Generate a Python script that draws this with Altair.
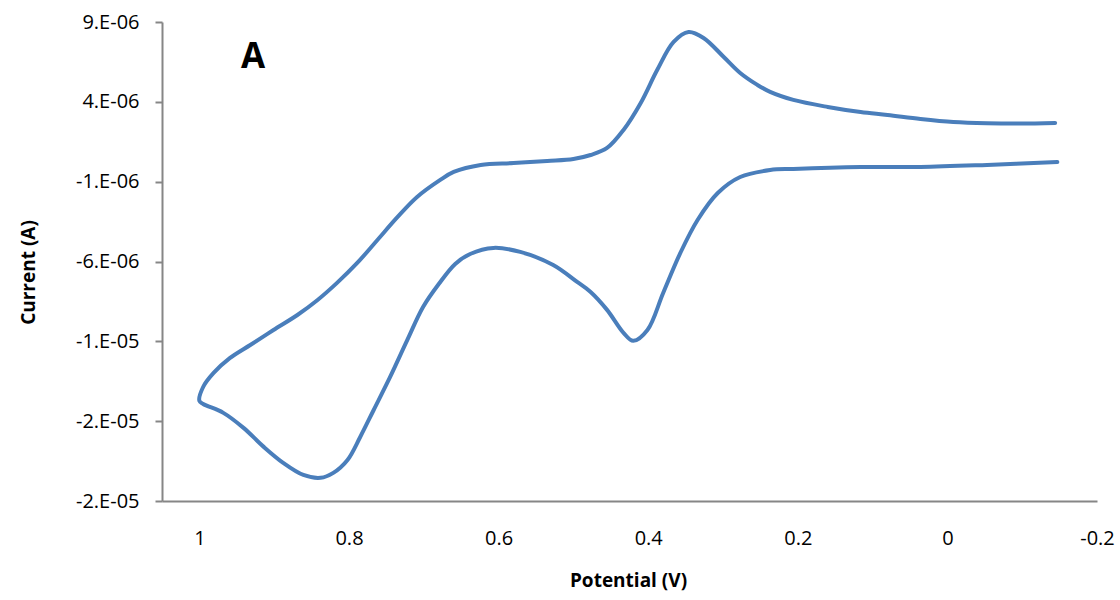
import altair as alt
import pandas as pd

# Cyclic voltammogram: one continuous scan, traced in acquisition order
# (forward branch from -0.15 V up to +1.0 V, then the return branch back).
potential_v = [
    -0.144, -0.098, -0.053, -0.008, 0.036, 0.080, 0.116, 0.160, 0.206, 0.237,
    0.254, 0.277, 0.299, 0.326, 0.346, 0.366, 0.388, 0.410, 0.433, 0.455,
    0.477, 0.500, 0.535, 0.580, 0.624, 0.660, 0.678, 0.709, 0.735, 0.762,
    0.789, 0.816, 0.842, 0.869, 0.901, 0.932, 0.959, 0.981, 0.995, 1.000,
    0.995, 0.968, 0.941, 0.914, 0.888, 0.861, 0.838, 0.821, 0.802, 0.785,
    0.767, 0.745, 0.722, 0.701, 0.680, 0.658, 0.638, 0.607, 0.571, 0.527,
    0.495, 0.477, 0.455, 0.433, 0.420, 0.401, 0.380, 0.357, 0.334, 0.307,
    0.277, 0.237, 0.206, 0.116, 0.036, -0.053, -0.147,
]
current_ua = [
    2.68, 2.64, 2.66, 2.74, 2.93, 3.18, 3.36, 3.68, 4.12, 4.62,
    5.06, 5.81, 6.81, 8.00, 8.37, 7.75, 5.99, 3.93, 2.24, 1.11,
    0.67, 0.42, 0.30, 0.17, 0.05, -0.39, -0.89, -1.96, -3.21, -4.65,
    -6.09, -7.34, -8.41, -9.35, -10.29, -11.23, -12.04, -12.98, -13.86, -14.73,
    -14.92, -15.48, -16.42, -17.61, -18.61, -19.37, -19.55, -19.24, -18.43, -16.99,
    -15.30, -13.23, -10.91, -8.85, -7.41, -6.15, -5.53, -5.15, -5.40, -6.22,
    -7.28, -7.91, -9.03, -10.47, -10.97, -10.29, -7.97, -5.46, -3.40, -1.71,
    -0.71, -0.27, -0.20, -0.08, -0.08, 0.05, 0.23,
]

# Axis ticks and their printed labels
x_ticks = [1.0, 0.8, 0.6, 0.4, 0.2, 0.0, -0.2]
x_tick_labels = ["1", "0.8", "0.6", "0.4", "0.2", "0", "-0.2"]
y_ticks_ua = [9, 4, -1, -6, -11, -16, -21]
y_tick_labels = ["9.E-06", "4.E-06", "-1.E-06", "-6.E-06", "-1.E-05", "-2.E-05", "-2.E-05"]

panel_label = "A"

df = pd.DataFrame({
    "step": range(len(potential_v)),
    "potential": potential_v,
    "current": [c * 1e-6 for c in current_ua],
})


def label_expr(values, labels, factor):
    expr = "''"
    for v, lab in reversed(list(zip(values, labels))):
        expr = f"round(datum.value * {factor}) == {round(v * factor)} ? '{lab}' : ({expr})"
    return expr


FONT = "Open Sans"
AXIS_GREY = "#868686"

x_enc = alt.X(
    "potential:Q",
    scale=alt.Scale(domain=[-0.2, 1.05], reverse=True, nice=False, zero=False),
    axis=alt.Axis(
        values=x_ticks,
        labelExpr=label_expr(x_ticks, x_tick_labels, 10),
        title="Potential (V)",
        ticks=False,
        grid=False,
        labelFlush=False,
        labelOverlap=False,
        labelPadding=27,
        titleX=466,
        titleY=70,
        titleBaseline="top",
    ),
)
y_enc = alt.Y(
    "current:Q",
    scale=alt.Scale(domain=[-21e-6, 9e-6], nice=False, zero=False),
    axis=alt.Axis(
        values=[v * 1e-6 for v in y_ticks_ua],
        labelExpr=label_expr([v * 1e-6 for v in y_ticks_ua], y_tick_labels, 1e6),
        title="Current (A)",
        grid=False,
        labelFlush=False,
        labelOverlap=False,
        tickSize=7,
        labelPadding=16,
        titleX=-124,
        titleY=250,
    ),
)

curve = alt.Chart(df).mark_line(
    color="#4a7ebb", strokeWidth=4, interpolate="catmull-rom",
    strokeCap="round", strokeJoin="round",
).encode(x=x_enc, y=y_enc, order="step:Q")

tag = alt.Chart(pd.DataFrame({"t": [panel_label]})).mark_text(
    font=FONT, fontSize=35, fontWeight="bold", color="black",
    align="center", baseline="alphabetic",
).encode(text="t:N", x=alt.value(91), y=alt.value(46))

chart = (
    alt.layer(curve, tag)
    .properties(
        width=935, height=479,
        autosize=alt.AutoSizeParams(type="none"),
        padding={"left": 162, "top": 22, "right": 23, "bottom": 99},
    )
    .configure_view(stroke=None)
    .configure_axis(
        domainColor=AXIS_GREY, domainWidth=2, tickColor=AXIS_GREY, tickWidth=2,
        labelFont=FONT, labelFontSize=20, labelColor="black",
        titleFont=FONT, titleFontSize=19, titleFontWeight="bold", titleColor="black",
    )
)

chart.save("out.html", embed_options={"renderer": "svg", "actions": False})
